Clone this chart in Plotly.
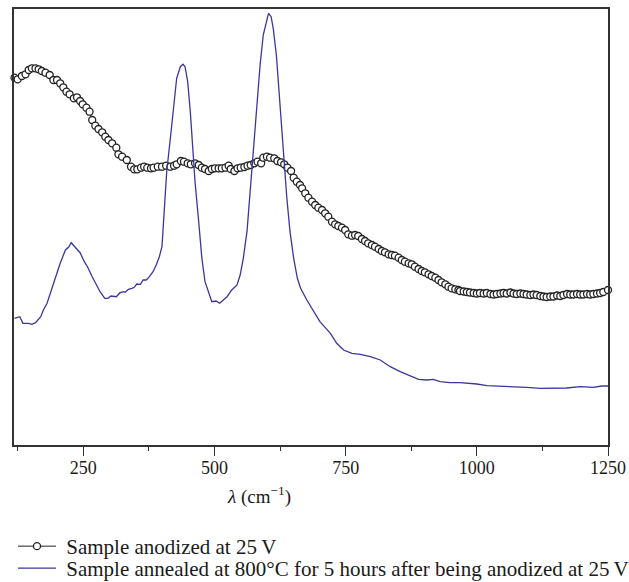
import plotly.graph_objects as go

# Sample anodized at 25 V (open circles)
anod_x = [119, 125, 133, 140, 146, 152, 159, 165, 171, 178, 186, 193, 200, 206, 212, 218, 224, 232, 238, 244,
          249, 256, 262, 267, 273, 279, 286, 292, 298, 305, 313, 317, 324, 333, 341, 347, 353, 360, 366, 372,
          379, 384, 392, 400, 408, 416, 423, 428, 436, 442, 449, 455, 463, 470, 476, 482, 489, 495, 501, 508,
          514, 521, 527, 531, 538, 544, 550, 557, 563, 569, 576, 582, 589, 593, 600, 606, 614, 620, 627, 633,
          639, 646, 651, 657, 663, 667, 673, 679, 686, 692, 698, 705, 711, 717, 724, 730, 736, 743, 749, 755,
          762, 768, 774, 781, 787, 793, 800, 806, 813, 819, 825, 832, 838, 844, 851, 857, 863, 870, 876, 882,
          889, 895, 901, 908, 914, 921, 927, 933, 940, 946, 952, 959, 965, 968, 975, 981, 987, 994, 1000, 1006,
          1013, 1019, 1026, 1032, 1038, 1045, 1051, 1057, 1064, 1070, 1076, 1083, 1089, 1095, 1102, 1108, 1114,
          1121, 1127, 1133, 1140, 1146, 1153, 1159, 1165, 1172, 1178, 1184, 1191, 1197, 1203, 1210, 1216, 1222,
          1229, 1235, 1241, 1250]
anod_y = [367.3, 365.7, 369, 370.7, 375, 376.7, 376.7, 375.7, 374, 372.3, 370, 365, 365, 361.7, 357.7, 353.3,
          350.7, 346.7, 347.7, 344, 340.7, 337.3, 333.3, 325, 319.3, 316, 312.7, 308.3, 305, 301.7, 297.3, 290.7,
          288.3, 285, 278.3, 275.7, 275.7, 277.3, 278.3, 277.3, 276.7, 277.3, 278.3, 278.3, 279.3, 278.3, 279.3,
          280.7, 284, 283.3, 281.7, 280.7, 281.7, 280, 277.3, 276, 274, 276, 276.7, 276.7, 276.7, 277.3, 279.3,
          276, 274, 276.7, 277.3, 278, 279.3, 280, 281.7, 283.3, 281.7, 287.3, 288.3, 287.3, 286.7, 284, 282.7,
          280.7, 277.3, 274, 267.3, 263.3, 260, 256.7, 251.7, 247.3, 243.3, 240, 237.3, 235, 231.7, 228.3, 223.3,
          220.7, 219, 217.3, 215, 210.7, 209.3, 210, 209, 206, 204, 201.7, 200, 198.3, 196, 194, 192.7, 190.7,
          190, 189.3, 187.3, 185, 183.3, 181.7, 180.7, 178.3, 176, 174, 172.7, 170.7, 169, 167.3, 165, 162.7,
          160.7, 158.3, 156.7, 155.7, 155, 154, 153.5, 153, 152.5, 152, 151.5, 152, 151.5, 152, 151, 150.5, 151,
          151.5, 152, 151.5, 152.5, 151.5, 151, 151.5, 151, 150.5, 150, 150.5, 150, 149, 148.5, 148, 148.5,
          148.5, 149.5, 149, 150, 151, 150.5, 150.5, 151, 150.5, 150.5, 151, 150.5, 151, 151.5, 152, 153, 155]

# Sample annealed at 800°C for 5 hours after being anodized at 25 V (line)
ann_x = [119, 129, 135, 146, 152, 159, 169, 174, 181, 187, 193, 200, 206, 216, 222, 227, 235, 244, 252, 258,
         267, 275, 282, 291, 297, 303, 313, 320, 327, 330, 336, 343, 347, 352, 359, 364, 370, 376, 383, 389,
         395, 400, 403, 409, 416, 422, 428, 435, 440, 444, 449, 454, 459, 463, 470, 476, 482, 489, 495, 503,
         510, 517, 524, 533, 543, 549, 555, 562, 568, 574, 581, 587, 593, 599, 603, 608, 612, 618, 622, 627,
         632, 638, 644, 651, 658, 664, 676, 689, 701, 721, 733, 746, 762, 778, 797, 816, 835, 854, 867, 879,
         889, 905, 917, 930, 949, 968, 981, 1000, 1019, 1044, 1070, 1095, 1121, 1146, 1171, 1197, 1222, 1238,
         1250]
ann_y = [126.7, 128.3, 121.7, 121.7, 120.7, 122.3, 128.3, 135, 141.7, 151.7, 161.7, 171.7, 181.7, 195, 197.7,
         202.3, 197.7, 192.3, 183.3, 178.3, 168.3, 160, 153.3, 146.7, 146.7, 149, 148.3, 152.3, 153.3, 152.7,
         155.7, 156.7, 157.7, 161, 160.7, 165, 165, 168.3, 173.3, 180, 188.3, 198.3, 222, 273.3, 306.7, 340,
         366.7, 378.3, 380.7, 378.3, 363.3, 333.3, 296.7, 263.3, 223.3, 186.7, 163.3, 153.3, 143.3, 144, 141.7,
         145, 148.3, 155, 160, 170, 186.7, 213.3, 253.3, 296.7, 340, 380, 410, 425, 431.7, 428.3, 416.7, 390,
         360, 326.7, 286.7, 246.7, 213.3, 186.7, 166.7, 157, 145, 133.3, 123.3, 111.7, 101.7, 95, 91.7, 90.7,
         88.3, 85, 78.3, 73.3, 70.7, 68.3, 65.7, 65, 65.7, 63.3, 62.3, 62.3, 61.7, 61, 59.3, 59, 58.3, 57.7,
         56.7, 56.7, 57, 58.3, 57.7, 59, 59]

x_tickvals = [250, 500, 750, 1000, 1250]
x_ticktext = ["250", "500", "750", "1000", "1250"]

FONT = "Liberation Serif"
TXT = "#1a1a1a"

fig = go.Figure()
fig.add_trace(go.Scatter(
    x=anod_x, y=anod_y, mode="lines+markers", name="\u00a0Sample anodized at 25\u2009V",
    line=dict(color="#222222", width=1),
    marker=dict(symbol="circle", size=7, color="white", line=dict(color="#222222", width=1.3)),
    cliponaxis=False, legend="legend",
))
fig.add_trace(go.Scatter(
    x=ann_x, y=ann_y, mode="lines",
    name="\u00a0Sample annealed at 800°C for 5 hours after being anodized at 25\u2009V",
    line=dict(color="#3b369e", width=1.3),
    cliponaxis=False, legend="legend2",
))

leg_common = dict(
    x=-1 / 594, xanchor="left", yanchor="top",
    font=dict(family=FONT, size=21, color=TXT),
    bgcolor="rgba(0,0,0,0)", borderwidth=0, itemwidth=38,
)

fig.update_layout(
    width=629, height=582,
    margin=dict(l=14, r=21, t=9, b=137, autoexpand=False),
    paper_bgcolor="white", plot_bgcolor="white",
    font=dict(family=FONT, size=18, color=TXT),
    showlegend=True,
    legend=dict(y=(445 - 526) / 436, **leg_common),
    legend2=dict(y=(445 - 548) / 436, **leg_common),
    annotations=[dict(
        text="<i>λ</i> (cm<sup>−1</sup>)", xref="paper", yref="paper",
        x=(259 - 14) / 594, y=(445 - 495) / 436, xanchor="center", yanchor="middle",
        showarrow=False, font=dict(family=FONT, size=19, color=TXT),
    )],
)
fig.update_xaxes(
    range=[118, 1250], showgrid=False, zeroline=False,
    showline=True, linecolor="#333333", linewidth=1.5, mirror=True,
    tickmode="array", tickvals=x_tickvals, ticktext=x_ticktext,
    ticks="outside", ticklen=9, tickwidth=1.3, tickcolor="#333333",
    ticklabelstandoff=-3,
    minor=dict(tickvals=[125, 375, 625, 875, 1125], ticks="outside", ticklen=4, tickwidth=1.3, tickcolor="#333333"),
    tickfont=dict(family=FONT, size=18, color=TXT),
)
fig.update_yaxes(
    range=[0, 436], showgrid=False, zeroline=False,
    showline=True, linecolor="#333333", linewidth=1.5, mirror=True,
    showticklabels=False, ticks="",
)

fig.write_html("out.html")
